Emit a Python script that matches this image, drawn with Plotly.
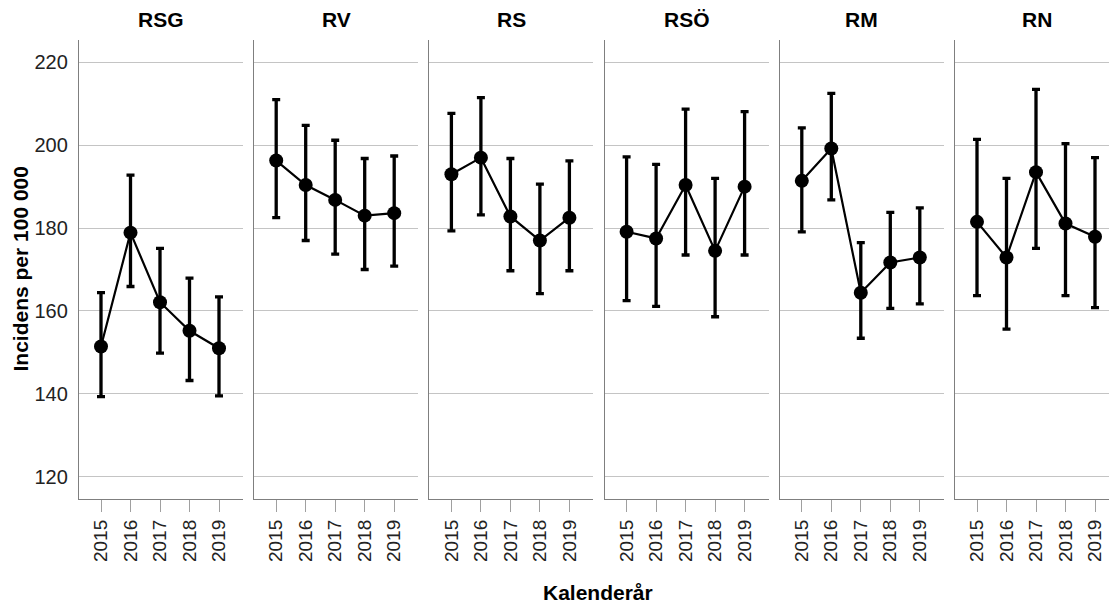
import plotly.graph_objects as go

years = ["2015", "2016", "2017", "2018", "2019"]
regions = ["RSG", "RV", "RS", "RSÖ", "RM", "RN"]

rsg_mean = [151.4, 178.9, 162.1, 155.2, 151.0]
rsg_low = [139.3, 165.9, 149.8, 143.2, 139.5]
rsg_high = [164.4, 192.8, 175.1, 167.9, 163.4]

rv_mean = [196.3, 190.4, 186.8, 183.0, 183.6]
rv_low = [182.5, 177.0, 173.7, 170.0, 170.8]
rv_high = [211.0, 204.8, 201.2, 196.8, 197.4]

rs_mean = [193.0, 197.0, 182.8, 177.0, 182.5]
rs_low = [179.3, 183.2, 169.7, 164.2, 169.7]
rs_high = [207.7, 211.5, 196.8, 190.6, 196.2]

rso_mean = [179.1, 177.5, 190.4, 174.5, 190.0]
rso_low = [162.5, 161.1, 173.5, 158.6, 173.5]
rso_high = [197.2, 195.4, 208.7, 192.0, 208.1]

rm_mean = [191.4, 199.2, 164.4, 171.7, 172.9]
rm_low = [179.1, 186.8, 153.4, 160.6, 161.7]
rm_high = [204.2, 212.5, 176.5, 183.8, 184.9]

rn_mean = [181.5, 172.9, 193.5, 181.1, 177.9]
rn_low = [163.7, 155.6, 175.1, 163.7, 160.8]
rn_high = [201.4, 192.0, 213.5, 200.4, 197.0]

y_ticks = [120, 140, 160, 180, 200, 220]

series = [
    (rsg_mean, rsg_low, rsg_high),
    (rv_mean, rv_low, rv_high),
    (rs_mean, rs_low, rs_high),
    (rso_mean, rso_low, rso_high),
    (rm_mean, rm_low, rm_high),
    (rn_mean, rn_low, rn_high),
]

FONT = "Liberation Sans, Arial, sans-serif"
W, H = 1109, 603
ML, MT, MB = 79, 40, 104
PW = W - ML
PH = H - MT - MB
step = 175.2
panel_w = 164.0

fig = go.Figure()
layout = {}
annotations = []

for i, (reg, (m, lo, hi)) in enumerate(zip(regions, series)):
    xa = "x" if i == 0 else f"x{i+1}"
    ya = "y" if i == 0 else f"y{i+1}"
    fig.add_trace(go.Scatter(
        x=years, y=m, xaxis=xa, yaxis=ya, mode="lines+markers",
        line=dict(color="black", width=2.2),
        marker=dict(color="black", size=14),
        error_y=dict(type="data", symmetric=False,
                     array=[h - v for h, v in zip(hi, m)],
                     arrayminus=[v - l for v, l in zip(m, lo)],
                     color="black", thickness=3.3, width=4),
        showlegend=False, hoverinfo="skip",
    ))
    left = i * step
    right = min(left + panel_w, PW)
    d0 = left / PW
    d1 = right / PW
    xhigh = 4 + (right - left - 22 - 4 * 29.5) / 29.5
    xkey = "xaxis" if i == 0 else f"xaxis{i+1}"
    ykey = "yaxis" if i == 0 else f"yaxis{i+1}"
    layout[xkey] = dict(
        domain=[d0, d1], anchor=ya, type="category",
        range=[-22 / 29.5, xhigh],
        showline=True, linecolor="#7f7f7f", linewidth=1.3,
        showgrid=False, zeroline=False,
        ticks="outside", ticklen=12, tickcolor="#a0a0a0", tickwidth=1,
        tickangle=-90,
        tickfont=dict(family=FONT, size=19, color="#222222"),
    )
    layout[ykey] = dict(
        domain=[0, 1], anchor=xa,
        range=[114.6, 225.4],
        tickvals=y_ticks,
        showticklabels=(i == 0),
        showline=True, linecolor="#7f7f7f", linewidth=1.3,
        showgrid=True, gridcolor="#c4c4c4", gridwidth=1,
        zeroline=False, ticks="",
        ticklabelstandoff=6,
        tickfont=dict(family=FONT, size=20, color="#222222"),
    )
    annotations.append(dict(
        text=f"<b>{reg}</b>", xref="paper", yref="paper",
        x=(left + panel_w / 2) / PW, xanchor="center",
        y=1, yanchor="middle", yshift=21, showarrow=False,
        font=dict(family=FONT, size=21, color="black"),
    ))

annotations.append(dict(
    text="<b>Incidens per 100 000</b>", xref="paper", yref="paper",
    x=(20 - ML) / PW, y=0.5, textangle=-90, showarrow=False,
    xanchor="center", yanchor="middle",
    font=dict(family=FONT, size=21, color="black"),
))
annotations.append(dict(
    text="<b>Kalenderår</b>", xref="paper", yref="paper",
    x=(598 - ML) / PW, y=-(592 - (H - MB)) / PH, showarrow=False,
    xanchor="center", yanchor="middle",
    font=dict(family=FONT, size=21, color="black"),
))

fig.update_layout(
    width=W, height=H,
    margin=dict(l=ML, r=0, t=MT, b=MB, pad=0),
    plot_bgcolor="white", paper_bgcolor="white",
    annotations=annotations,
    **layout,
)

fig.write_html("out.html")
